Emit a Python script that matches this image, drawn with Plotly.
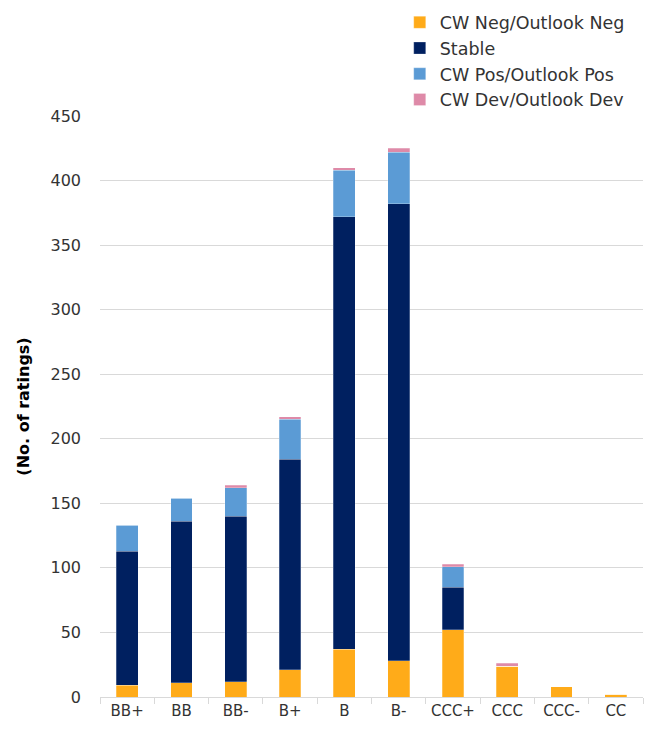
import plotly.graph_objects as go

categories = ["BB+", "BB", "BB-", "B+", "B", "B-", "CCC+", "CCC", "CCC-", "CC"]
neg = [9, 11, 12, 21, 37, 28, 52, 24, 8, 2]
stable = [104, 125, 128, 163, 335, 354, 33, 0, 0, 0]
pos = [20, 18, 22, 31, 36, 40, 16, 0, 0, 0]
dev = [0, 0, 2, 2, 2, 3, 2, 2, 0, 0]

series = [
    ("CW Neg/Outlook Neg", neg, "#FFAB19"),
    ("Stable", stable, "#002060"),
    ("CW Pos/Outlook Pos", pos, "#5B9BD5"),
    ("CW Dev/Outlook Dev", dev, "#DE8AA8"),
]

fig = go.Figure()
for name, vals, col in series:
    fig.add_trace(go.Bar(
        x=categories, y=vals, name=name,
        marker=dict(color=col, line=dict(color="rgba(255,255,255,0.5)", width=0.5)),
    ))

font_family = "DejaVu Sans, Liberation Sans, sans-serif"
fig.update_layout(
    barmode="stack",
    bargap=0.6,
    width=649, height=730,
    margin=dict(l=100, r=6, t=115, b=33),
    paper_bgcolor="white",
    plot_bgcolor="white",
    font=dict(family=font_family, size=15, color="#333333"),
    legend=dict(
        x=0.552, y=1.19, xanchor="left", yanchor="top",
        traceorder="normal",
        font=dict(size=17.5, color="#333333"),
        itemwidth=30,
        tracegroupgap=0,
        bgcolor="rgba(0,0,0,0)",
    ),
    showlegend=True,
)
fig.update_yaxes(
    range=[0, 450],
    tickvals=[0, 50, 100, 150, 200, 250, 300, 350, 400, 450],
    showgrid=True, gridcolor="#D9D9D9", gridwidth=1,
    zeroline=False,
    ticks="", ticklabelstandoff=18,
    tickfont=dict(size=16),
    title=dict(text="<b>(No. of ratings)</b>", font=dict(size=16, color="#000000"), standoff=16),
)
fig.update_xaxes(
    showline=True, linecolor="#D9D9D9", linewidth=1,
    ticks="outside", tickson="boundaries", ticklen=6, tickcolor="#D9D9D9",
    tickfont=dict(size=15),
)

fig.write_html("out.html")
